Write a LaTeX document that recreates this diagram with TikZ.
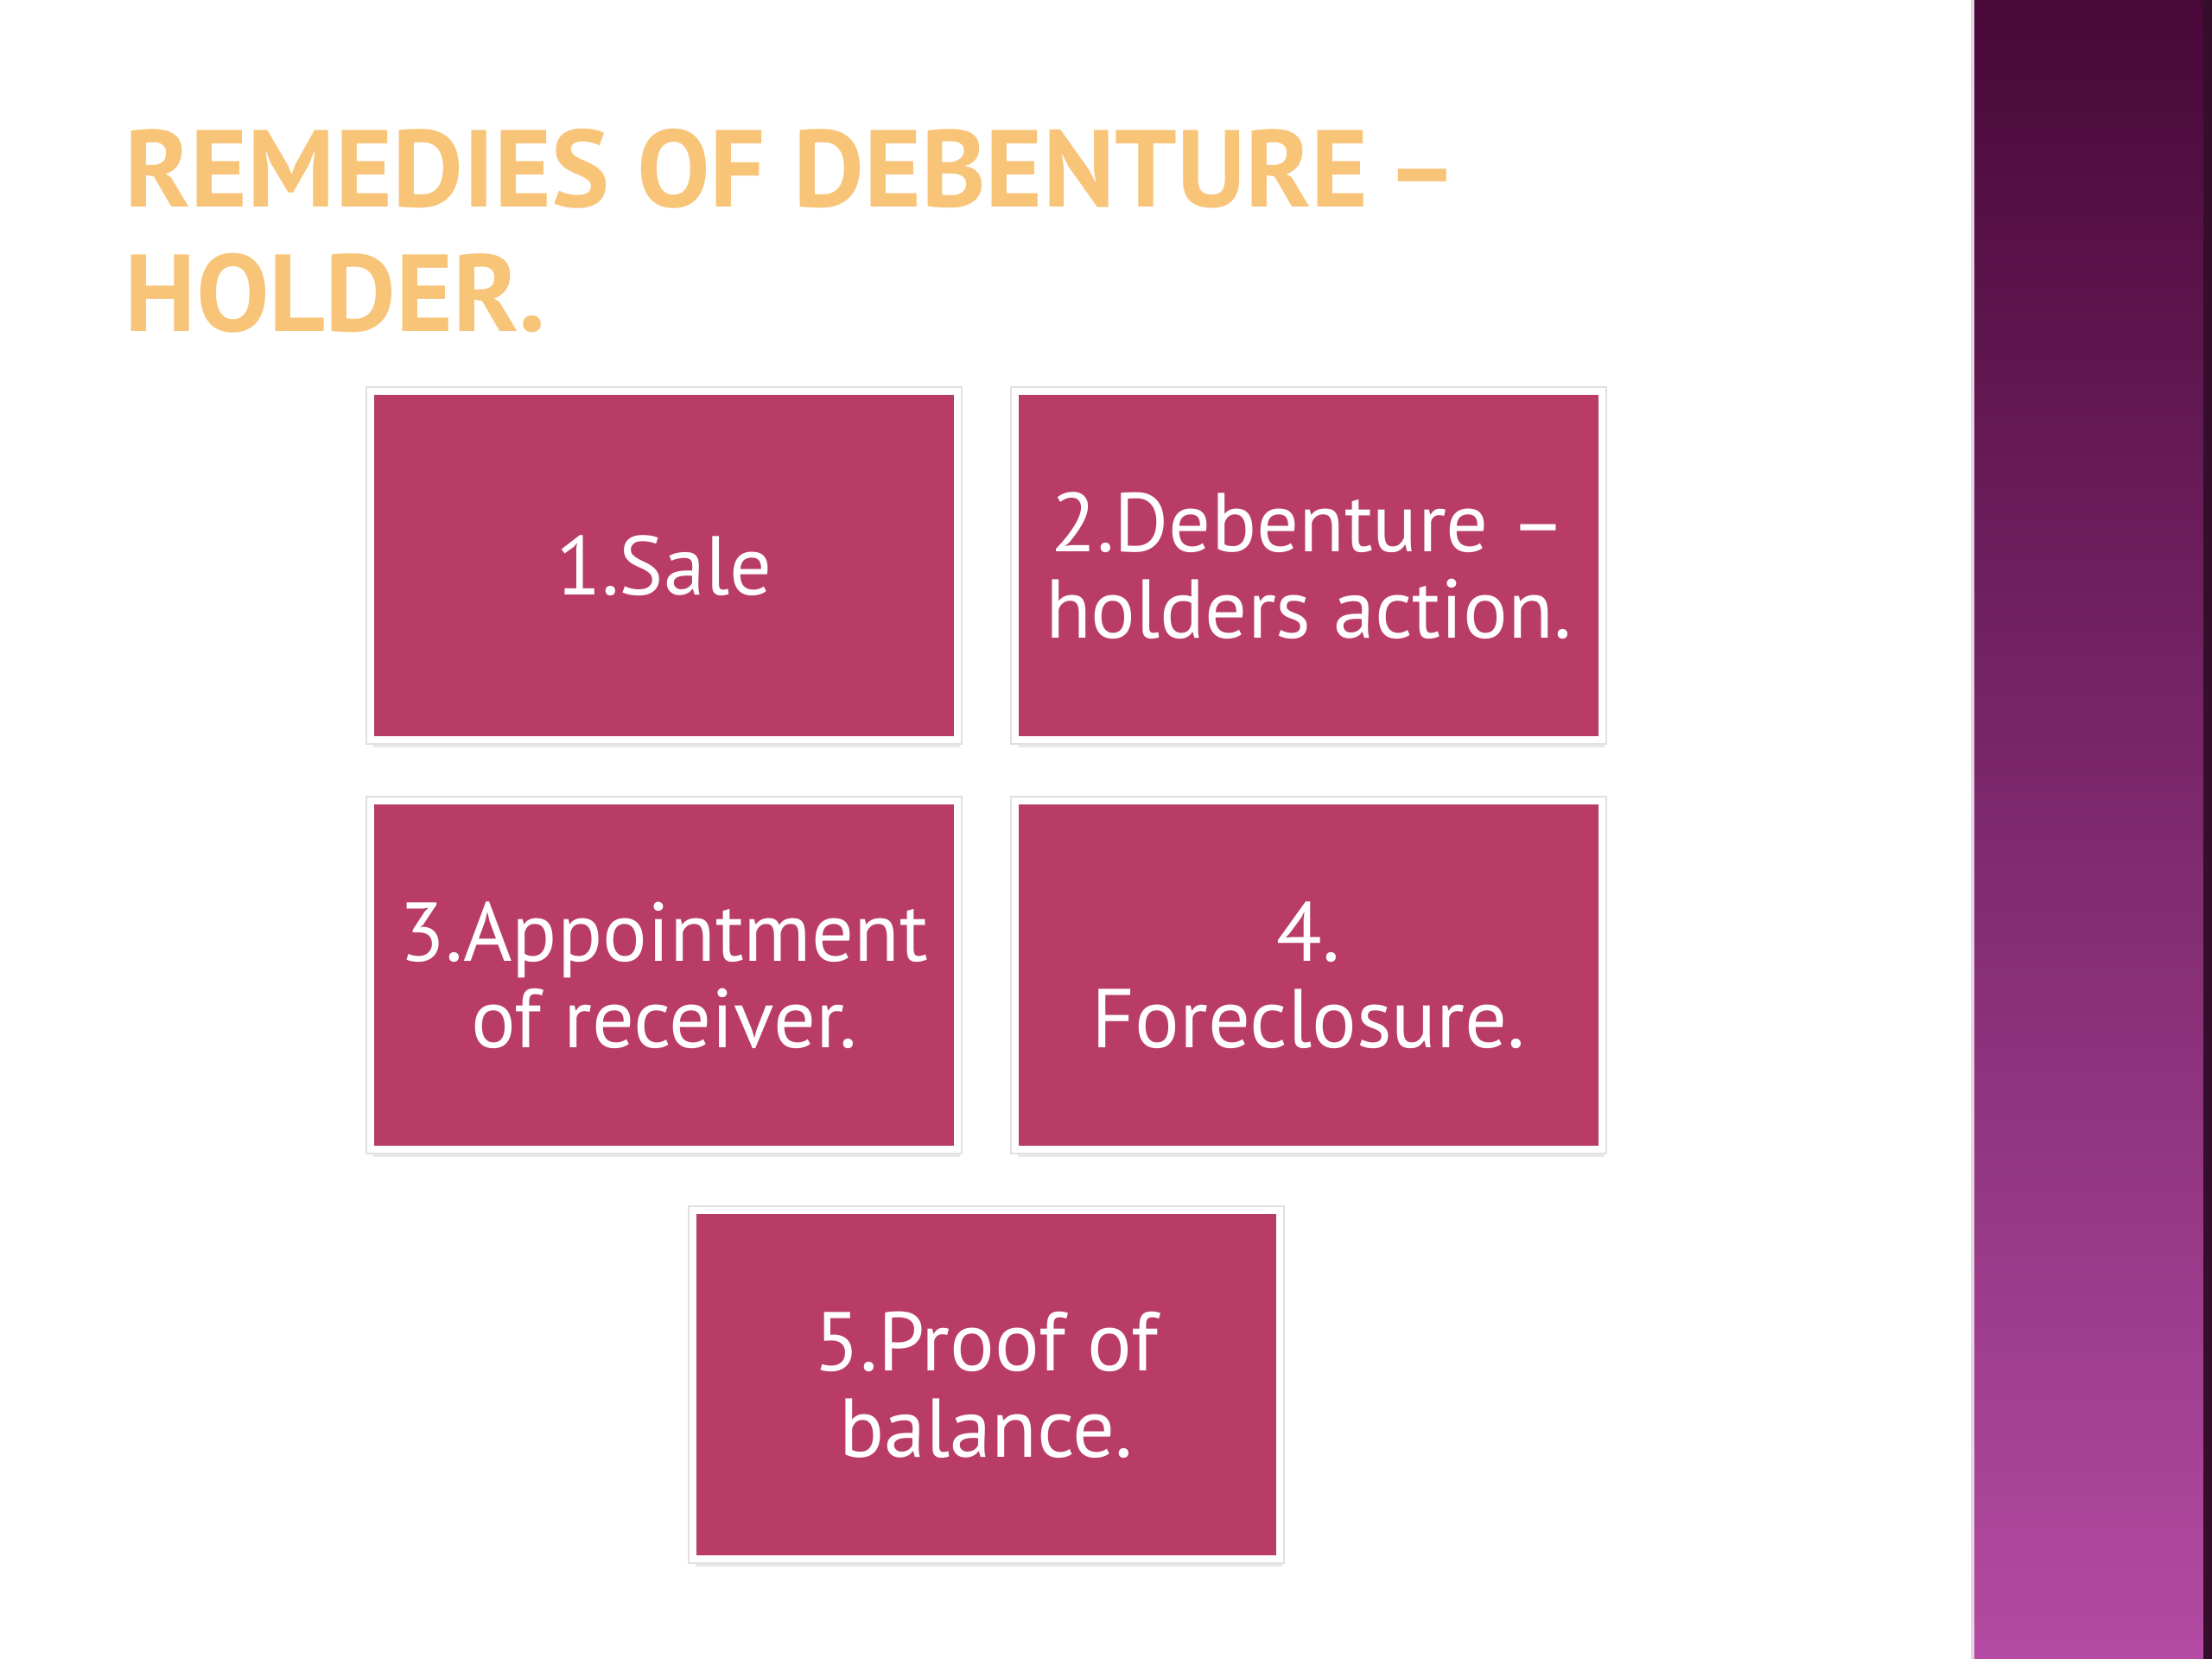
\documentclass[tikz,border=0pt]{standalone}
\usepackage{fontspec}
\setmainfont{PT Sans}
\usetikzlibrary{positioning,shadows,calc}
\definecolor{remedyfill}{RGB}{184,60,102}
\definecolor{titlegold}{RGB}{247,196,120}
\definecolor{bandtop}{RGB}{72,8,56}
\definecolor{bandmid}{RGB}{124,46,110}
\definecolor{bandbottom}{RGB}{180,74,163}
\definecolor{bandedge}{RGB}{52,14,42}
\tikzset{
    remedybox/.style={rectangle,draw=white,line width=0.8mm,fill=remedyfill,text=white,align=center,outer sep=0pt,inner sep=0pt,minimum width=6.79cm,minimum height=4.03cm,font=\fontsize{27.5}{28.5}\selectfont,
        drop shadow={shadow xshift=0.3mm,shadow yshift=-0.9mm,fill=black!60,opacity=0.15},
        drop shadow={shadow xshift=0.1mm,shadow yshift=-0.45mm,fill=black!60,opacity=0.18},
        preaction={draw=black!12,line width=1.2mm}},
    remedytitle/.style={anchor=north west,text=titlegold,inner sep=0pt,align=left,font=\bfseries\fontsize{36}{41}\selectfont}
}
\begin{document}
\begin{tikzpicture}[node distance=7.1mm]
        \useasboundingbox (0,0) rectangle (25.6,19.2);
        \fill[white] (0,0) rectangle (25.6,19.2);
        % side band
        \shade[top color=bandtop,middle color=bandmid,bottom color=bandbottom] (22.81,0) rectangle (25.6,19.2);
        \fill[bandedge] (25.5,0) rectangle (25.6,19.2);
        \draw[white!80!bandmid,line width=0.4mm] (22.83,0) -- (22.83,19.2);
        \node[remedytitle] (title) at (1.44,17.72) {REMEDIES OF DEBENTURE\,–\\HOLDER.};
        \node[remedybox] (sale) at (7.685,12.655) {1.Sale};
        \node[remedybox,right=6.7mm of sale] (action) {2.Debenture –\\holders action.};
        \node[remedybox,below=of sale] (receiver) {3.Appointment\\of receiver.};
        \node[remedybox,below=of action] (foreclosure) {4.\\Foreclosure.};
        \coordinate (midrow) at ($(receiver.south)!0.5!(foreclosure.south)$);
        \node[remedybox,below=of midrow] (proof) {5.Proof of\\balance.};
    \end{tikzpicture}
\end{document}
